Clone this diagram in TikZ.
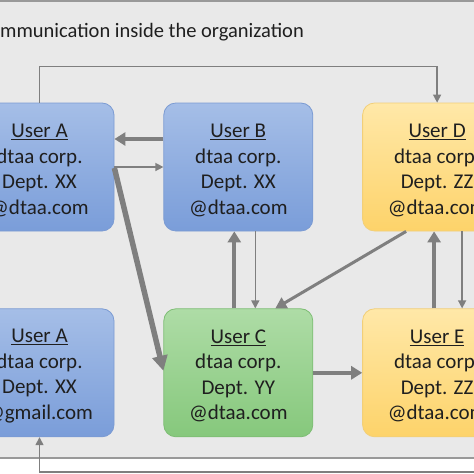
\documentclass[tikz,border=0pt]{standalone}
\usepackage{fontspec}
\setmainfont{Carlito}
\usepackage{tikz}
\usetikzlibrary{positioning}
\usetikzlibrary{arrows.meta}
\definecolor{panel}{HTML}{E9E9E9}
\definecolor{arrowgray}{HTML}{7F7F7F}
\definecolor{blueTop}{HTML}{A5BEE7}
\definecolor{blueBot}{HTML}{7A9DD9}
\definecolor{blueEdge}{HTML}{7B9BD3}
\definecolor{greenTop}{HTML}{AEDCA6}
\definecolor{greenBot}{HTML}{86C87C}
\definecolor{greenEdge}{HTML}{7DBD74}
\definecolor{yellowTop}{HTML}{FFE8A8}
\definecolor{yellowBot}{HTML}{FDD36A}
\definecolor{yellowEdge}{HTML}{F2CF78}

\begin{document}
\begin{tikzpicture}[x=1pt, y=-1pt,
    every node/.style = {font=\fontsize{21}{25.5}\selectfont, text=black!88},
    userbox/.style = {minimum width=149pt, minimum height=128pt, rounded corners=12pt,
                      draw, line width=0.8pt, align=center, inner sep=0pt},
    bluebox/.style = {userbox, top color=blueTop, bottom color=blueBot, draw=blueEdge},
    greenbox/.style = {userbox, top color=greenTop, bottom color=greenBot, draw=greenEdge},
    yellowbox/.style = {userbox, top color=yellowTop, bottom color=yellowBot, draw=yellowEdge},
    thinarr/.style = {draw=arrowgray, line width=1.4pt, -{Triangle[length=8pt, width=8pt]}},
    medarr/.style = {draw=arrowgray, line width=3pt, -{Triangle[length=11pt, width=12pt]}},
    thickarr/.style = {draw=arrowgray, line width=4pt, -{Triangle[length=11pt, width=13pt]}},
    heavyarr/.style = {draw=arrowgray, line width=5.5pt, -{Triangle[length=15pt, width=15pt]}}
  ]
    \useasboundingbox (0,0) rectangle (474,474);
    \clip (0,0) rectangle (474,474);

    % panel
    \draw[fill=panel, draw=black!40, line width=2pt] (-10,1) rectangle (490,458);
    \node[anchor=base west, inner sep=0pt, font=\fontsize{20.5}{24}\selectfont] (title) at (0,37)
        {mmunication inside the organization};

    % users
    \node[bluebox] (userA) at (39.5,167) {\underline{User A}\rule{0pt}{20pt}\\dtaa corp.\\Dept. XX\\@dtaa.com};
    \node[bluebox, right=49pt of userA] (userB) {\underline{User B}\rule{0pt}{20pt}\\dtaa corp.\\Dept. XX\\@dtaa.com};
    \node[yellowbox, right=49pt of userB] (userD) {\underline{User D}\rule{0pt}{20pt}\\dtaa corp.\\Dept. ZZ\\@dtaa.com};
    \node[bluebox, below=77pt of userA] (userAx) {\underline{User A}\rule{0pt}{20pt}\\dtaa corp.\\Dept. XX\\@gmail.com};
    \node[greenbox, below=77pt of userB] (userC) {\underline{User C}\rule{0pt}{20pt}\\dtaa corp.\\Dept. YY\\@dtaa.com};
    \node[yellowbox, below=77pt of userD] (userE) {\underline{User E}\rule{0pt}{20pt}\\dtaa corp.\\Dept. ZZ\\@dtaa.com};

    % messages
    \draw[thinarr] (userA.north) -- ++(0,-36) -| (userD.north);
    \draw[thickarr] ([yshift=28pt]userB.west) -- ([yshift=28pt]userA.east);
    \draw[thinarr] (userA.east) -- (userB.west);
    \draw[heavyarr] ([yshift=-1pt]userA.east) -- ([yshift=2pt]userC.west);
    \draw[thickarr] ([xshift=-4pt]userC.north) -- ([xshift=-4pt]userB.south);
    \draw[thinarr] ([xshift=17pt]userB.south) -- ([xshift=17pt]userC.north);
    \draw[medarr] ([xshift=-31pt]userD.south) -- ([xshift=37pt]userC.north);
    \draw[thickarr] ([xshift=-3pt]userE.north) -- ([xshift=-3pt]userD.south);
    \draw[thinarr] ([xshift=25pt]userD.south) -- ([xshift=25pt]userE.north);
    \draw[thickarr] (userC.east) -- (userE.west);
    \coordinate (ret) at (490,472);
    \draw[thinarr] (ret) -| (userAx.south);
\end{tikzpicture}
\end{document}
